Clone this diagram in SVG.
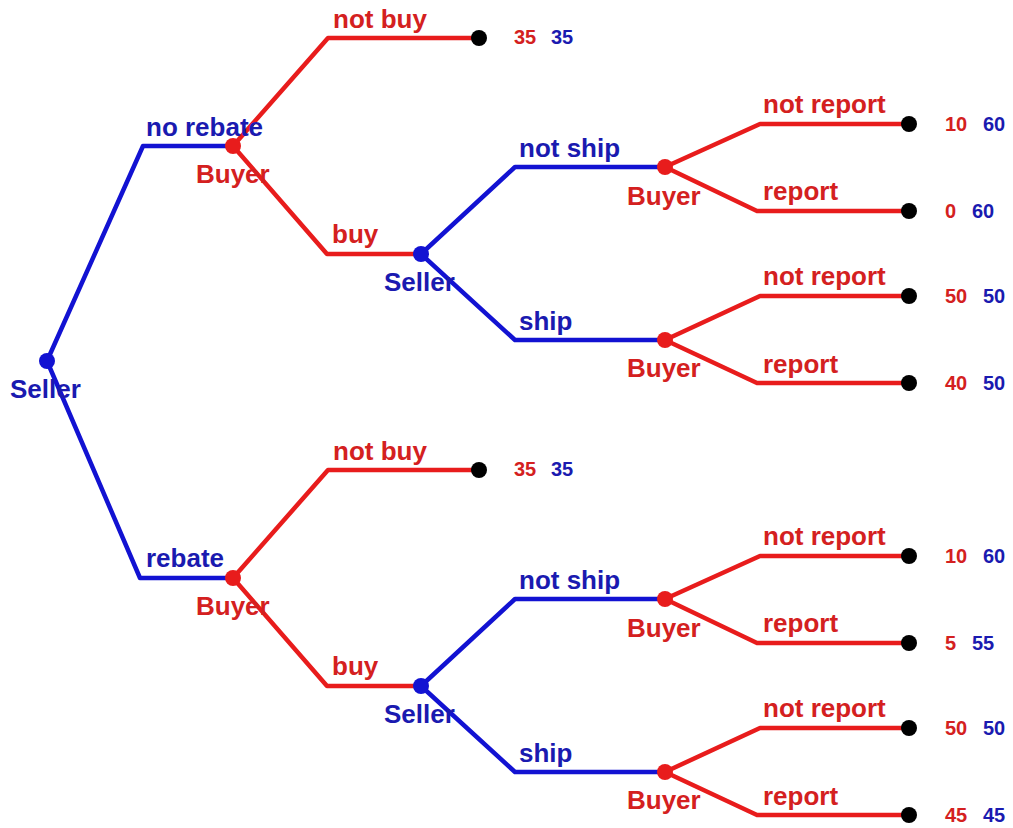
<svg xmlns="http://www.w3.org/2000/svg" width="1013" height="828" viewBox="0 0 1013 828">
<style>
.r{fill:none;stroke:#e81c1c;stroke-width:4.5;stroke-linejoin:round}
.b{fill:none;stroke:#1212d2;stroke-width:4.5;stroke-linejoin:round}
text{font-family:"Liberation Sans",Arial,sans-serif;font-weight:bold}
.lr{fill:#d42020;font-size:26px}
.lb{fill:#1a1ab0;font-size:26px}
.pr{fill:#d42020;font-size:20px}
.pb{fill:#1a1ab0;font-size:20px}
.nr{fill:#e81c1c}
.nb{fill:#1212d2}
.t{fill:#000}
</style>
<rect width="1013" height="828" fill="#fff"/>
<g id="connectors">
<polyline class="b" points="47,361 143,146 233,146"/>
<polyline class="b" points="47,361 140,578 233,578"/>
<polyline class="r" points="233,146 328,38 479,38"/>
<polyline class="r" points="233,146 327,254 421,254"/>
<polyline class="b" points="421,254 515,167 665,167"/>
<polyline class="b" points="421,254 515,340 665,340"/>
<polyline class="r" points="665,167 760,124 909,124"/>
<polyline class="r" points="665,167 757,211 909,211"/>
<polyline class="r" points="665,340 760,296 909,296"/>
<polyline class="r" points="665,340 757,383 909,383"/>
<polyline class="r" points="233,578 328,470 479,470"/>
<polyline class="r" points="233,578 327,686 421,686"/>
<polyline class="b" points="421,686 515,599 665,599"/>
<polyline class="b" points="421,686 515,772 665,772"/>
<polyline class="r" points="665,599 760,556 909,556"/>
<polyline class="r" points="665,599 757,643 909,643"/>
<polyline class="r" points="665,772 760,728 909,728"/>
<polyline class="r" points="665,772 757,815 909,815"/>
</g>
<g id="edge-labels">
<text class="lb" x="146" y="136">no rebate</text>
<text class="lb" x="146" y="567">rebate</text>
<text class="lr" x="333" y="28">not buy</text>
<text class="lr" x="332" y="243">buy</text>
<text class="lr" x="333" y="460">not buy</text>
<text class="lr" x="332" y="675">buy</text>
<text class="lb" x="519" y="157">not ship</text>
<text class="lb" x="519" y="330">ship</text>
<text class="lb" x="519" y="589">not ship</text>
<text class="lb" x="519" y="762">ship</text>
<text class="lr" x="763" y="113">not report</text>
<text class="lr" x="763" y="200">report</text>
<text class="lr" x="763" y="285">not report</text>
<text class="lr" x="763" y="373">report</text>
<text class="lr" x="763" y="545">not report</text>
<text class="lr" x="763" y="632">report</text>
<text class="lr" x="763" y="717">not report</text>
<text class="lr" x="763" y="805">report</text>
</g>
<g id="n-root"><circle class="nb" cx="47" cy="361" r="8"/><text class="lb" x="10" y="398">Seller</text></g>
<g id="n-buyer-a"><circle class="nr" cx="233" cy="146" r="8"/><text class="lr" x="196" y="183">Buyer</text></g>
<g id="n-seller-a"><circle class="nb" cx="421" cy="254" r="8"/><text class="lb" x="384" y="291">Seller</text></g>
<g id="n-buyer-a1"><circle class="nr" cx="665" cy="167" r="8"/><text class="lr" x="627" y="205">Buyer</text></g>
<g id="n-buyer-a2"><circle class="nr" cx="665" cy="340" r="8"/><text class="lr" x="627" y="377">Buyer</text></g>
<g id="n-buyer-b"><circle class="nr" cx="233" cy="578" r="8"/><text class="lr" x="196" y="615">Buyer</text></g>
<g id="n-seller-b"><circle class="nb" cx="421" cy="686" r="8"/><text class="lb" x="384" y="723">Seller</text></g>
<g id="n-buyer-b1"><circle class="nr" cx="665" cy="599" r="8"/><text class="lr" x="627" y="637">Buyer</text></g>
<g id="n-buyer-b2"><circle class="nr" cx="665" cy="772" r="8"/><text class="lr" x="627" y="809">Buyer</text></g>
<g id="t1"><circle class="t" cx="479" cy="38" r="8"/><text class="pr" x="514" y="44">35</text><text class="pb" x="551" y="44">35</text></g>
<g id="t2"><circle class="t" cx="909" cy="124" r="8"/><text class="pr" x="945" y="131">10</text><text class="pb" x="983" y="131">60</text></g>
<g id="t3"><circle class="t" cx="909" cy="211" r="8"/><text class="pr" x="945" y="218">0</text><text class="pb" x="972" y="218">60</text></g>
<g id="t4"><circle class="t" cx="909" cy="296" r="8"/><text class="pr" x="945" y="303">50</text><text class="pb" x="983" y="303">50</text></g>
<g id="t5"><circle class="t" cx="909" cy="383" r="8"/><text class="pr" x="945" y="390">40</text><text class="pb" x="983" y="390">50</text></g>
<g id="t6"><circle class="t" cx="479" cy="470" r="8"/><text class="pr" x="514" y="476">35</text><text class="pb" x="551" y="476">35</text></g>
<g id="t7"><circle class="t" cx="909" cy="556" r="8"/><text class="pr" x="945" y="563">10</text><text class="pb" x="983" y="563">60</text></g>
<g id="t8"><circle class="t" cx="909" cy="643" r="8"/><text class="pr" x="945" y="650">5</text><text class="pb" x="972" y="650">55</text></g>
<g id="t9"><circle class="t" cx="909" cy="728" r="8"/><text class="pr" x="945" y="735">50</text><text class="pb" x="983" y="735">50</text></g>
<g id="t10"><circle class="t" cx="909" cy="815" r="8"/><text class="pr" x="945" y="822">45</text><text class="pb" x="983" y="822">45</text></g>
</svg>
